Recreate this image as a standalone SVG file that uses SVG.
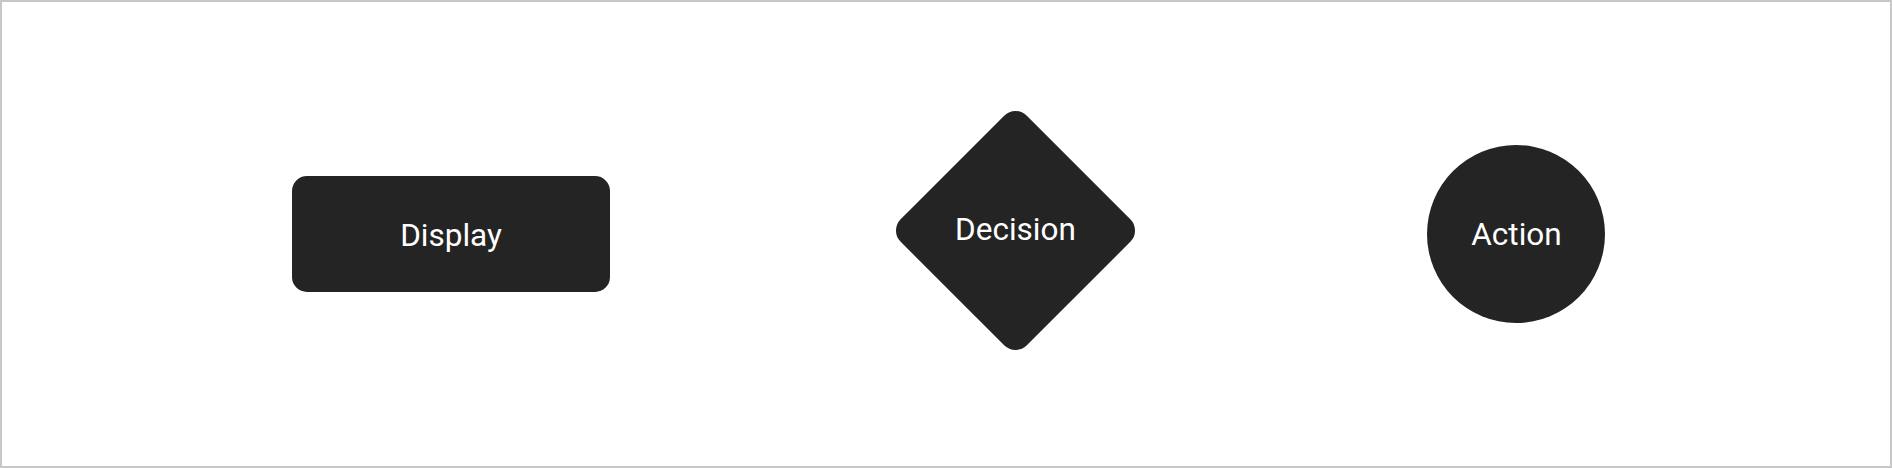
<svg xmlns="http://www.w3.org/2000/svg" width="1892" height="468" viewBox="0 0 1892 468">
<style>
.shape{fill:#242424;}
.lbl{fill:#ffffff;font-family:Roboto,"Liberation Sans",sans-serif;font-size:31.5px;text-anchor:middle;}
</style>
<rect x="0" y="0" width="1892" height="468" fill="#ffffff"/>
<rect x="1" y="1" width="1890" height="466" fill="none" stroke="#c8c8c8" stroke-width="2"/>
<g id="connectors"></g>
<g id="display">
<rect class="shape" x="292" y="176" width="318" height="116" rx="15"/>
<text class="lbl" x="451" y="246">Display</text>
</g>
<g id="decision">
<rect class="shape" x="-89.2" y="-89.2" width="178.4" height="178.4" rx="16" transform="translate(1015.5 230.5) rotate(45)"/>
<text class="lbl" x="1015.5" y="240">Decision</text>
</g>
<g id="action">
<circle class="shape" cx="1516" cy="234" r="89"/>
<text class="lbl" x="1516.5" y="245">Action</text>
</g>
</svg>
